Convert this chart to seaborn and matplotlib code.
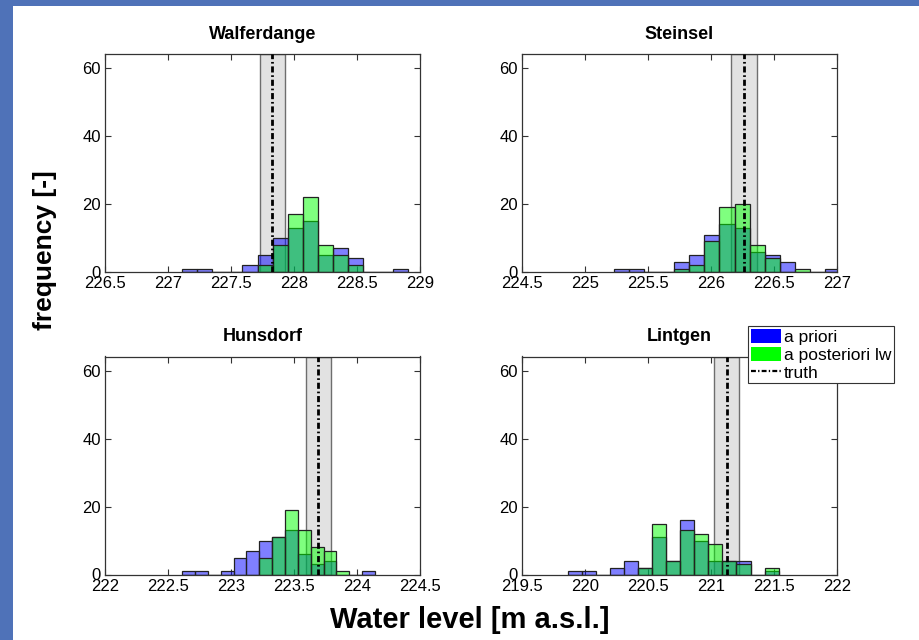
import numpy as np
import pandas as pd
import seaborn as sns
import matplotlib
matplotlib.use("Agg")
import matplotlib.pyplot as plt
from matplotlib.patches import Patch, Rectangle
from matplotlib.lines import Line2D
from matplotlib.ticker import FuncFormatter, MultipleLocator

# ---- data: ensemble histograms of simulated water level per gauging station ----
stations = ["Walferdange", "Steinsel", "Hunsdorf", "Lintgen"]

# lower edge of first bin and bin width [m a.s.l.]
bin_start = [227.113, 225.230, 222.613, 219.864]
bin_width = [0.1195, 0.1196, 0.1020, 0.1115]

# counts per bin, a priori ensemble
prior_walferdange = [1, 1, 0, 0, 2, 5, 10, 13, 15, 5, 7, 4, 0, 0, 1]
prior_steinsel = [1, 1, 0, 0, 3, 5, 11, 14, 13, 6, 5, 3, 0, 0, 1]
prior_hunsdorf = [1, 1, 0, 1, 5, 7, 10, 11, 13, 6, 3, 4, 0, 0, 1]
prior_lintgen = [1, 1, 0, 2, 4, 2, 11, 4, 16, 10, 4, 4, 4, 0, 1]

# counts per bin, a posteriori (likelihood weighted) ensemble
post_walferdange = [0, 0, 0, 0, 0, 2, 8, 17, 22, 8, 5, 2, 0, 0, 0]
post_steinsel = [0, 0, 0, 0, 1, 2, 9, 19, 20, 8, 4, 0, 1, 0, 0]
post_hunsdorf = [0, 0, 0, 0, 0, 0, 5, 11, 19, 13, 8, 7, 1, 0, 0]
post_lintgen = [0, 0, 0, 0, 0, 2, 15, 4, 13, 12, 9, 4, 3, 0, 2]

prior_counts = [prior_walferdange, prior_steinsel, prior_hunsdorf, prior_lintgen]
post_counts = [post_walferdange, post_steinsel, post_hunsdorf, post_lintgen]

# observed water level and its uncertainty band half-width [m]
truth = [227.828, 226.262, 223.692, 221.126]
truth_halfwidth = 0.10

# x-axis range per panel
xlims = [(226.5, 229.0), (224.5, 227.0), (222.0, 224.5), (219.5, 222.0)]

legend_labels = ["a priori", "a posteriori lw", "truth"]

# ---- styling ----
sns.set_style("ticks")
plt.rcParams["font.family"] = ["Liberation Sans", "DejaVu Sans"]
plt.rcParams["text.color"] = "black"
plt.rcParams["axes.edgecolor"] = "#333333"
plt.rcParams["axes.linewidth"] = 0.9

PRIOR_COLOR = "#0000FF"
POST_COLOR = "#00FF00"
FRAME_BLUE = "#4F72B8"
TRUTH_DASH = (0, (2.2, 1.0, 0.6, 1.0))

fig = plt.figure(figsize=(9.2, 6.4), dpi=100)
fig.patch.set_facecolor("white")

# blue frame strips along the left and top edges
fig.patches.append(Rectangle((0, 0), 13.5 / 920, 1, transform=fig.transFigure,
                             facecolor=FRAME_BLUE, edgecolor="none", zorder=0))
fig.patches.append(Rectangle((0, 1 - 5.5 / 640), 1, 5.5 / 640, transform=fig.transFigure,
                             facecolor=FRAME_BLUE, edgecolor="none", zorder=0))

W, H = 920, 640
ax_w, ax_h = 315, 218
lefts = [105, 522, 105, 522]
bottoms = [272, 272, 574.5, 574.5]

for i, name in enumerate(stations):
    ax = fig.add_axes([lefts[i] / W, 1 - bottoms[i] / H, ax_w / W, ax_h / H])
    n = len(prior_counts[i])
    edges = bin_start[i] + bin_width[i] * np.arange(n + 1)
    centers = 0.5 * (edges[:-1] + edges[1:])
    df = pd.DataFrame({"level": centers,
                       "prior": prior_counts[i],
                       "post": post_counts[i]})

    # uncertainty band around the observation
    ax.axvspan(truth[i] - truth_halfwidth, truth[i] + truth_halfwidth,
               facecolor="#E2E2E2", edgecolor="#6E6E6E", linewidth=1.0, zorder=0.5)

    sns.histplot(data=df, x="level", weights="prior", bins=list(edges), ax=ax,
                 color=PRIOR_COLOR, alpha=0.5, edgecolor="#222222", linewidth=0.9,
                 zorder=1)
    sns.histplot(data=df, x="level", weights="post", bins=list(edges), ax=ax,
                 color=POST_COLOR, alpha=0.5, edgecolor="#222222", linewidth=0.9,
                 zorder=1.1)

    ax.axvline(truth[i], color="black", linestyle=TRUTH_DASH, linewidth=2.0, zorder=3)

    ax.set_xlim(*xlims[i])
    ax.set_ylim(0, 64.2)
    ax.xaxis.set_major_locator(MultipleLocator(0.5))
    ax.yaxis.set_major_locator(MultipleLocator(20))
    ax.xaxis.set_major_formatter(FuncFormatter(lambda v, p: f"{v:g}"))
    ax.yaxis.set_major_formatter(FuncFormatter(lambda v, p: f"{v:g}"))
    ax.tick_params(direction="in", length=4, width=0.8, colors="#333333",
                   top=True, right=True, labelsize=12, labelcolor="black", pad=3)
    ax.set_xlabel("")
    ax.set_ylabel("")
    ax.set_title(name, fontsize=13, fontweight="bold", pad=11, color="black")

fig.text(45 / W, 1 - 250 / H, "frequency [-]", rotation=90, fontsize=19,
         fontweight="bold", ha="center", va="center")
fig.text(470 / W, 1 - 620 / H, "Water level [m a.s.l.]", fontsize=21,
         fontweight="bold", ha="center", va="center")

handles = [Patch(facecolor=PRIOR_COLOR, edgecolor="none"),
           Patch(facecolor=POST_COLOR, edgecolor="none"),
           Line2D([], [], color="black", linestyle=TRUTH_DASH, linewidth=1.6)]
leg = fig.legend(handles, legend_labels, loc="upper left",
                 bbox_to_anchor=(748 / W, 1 - 326 / H), fontsize=12.5,
                 frameon=True, fancybox=False, edgecolor="#333333", framealpha=1,
                 borderpad=0.15, borderaxespad=0, handlelength=1.75,
                 handleheight=0.9, handletextpad=0.15, labelspacing=0.1)
leg.get_frame().set_linewidth(0.8)

fig.savefig("out.png", dpi=100, facecolor=fig.get_facecolor())
